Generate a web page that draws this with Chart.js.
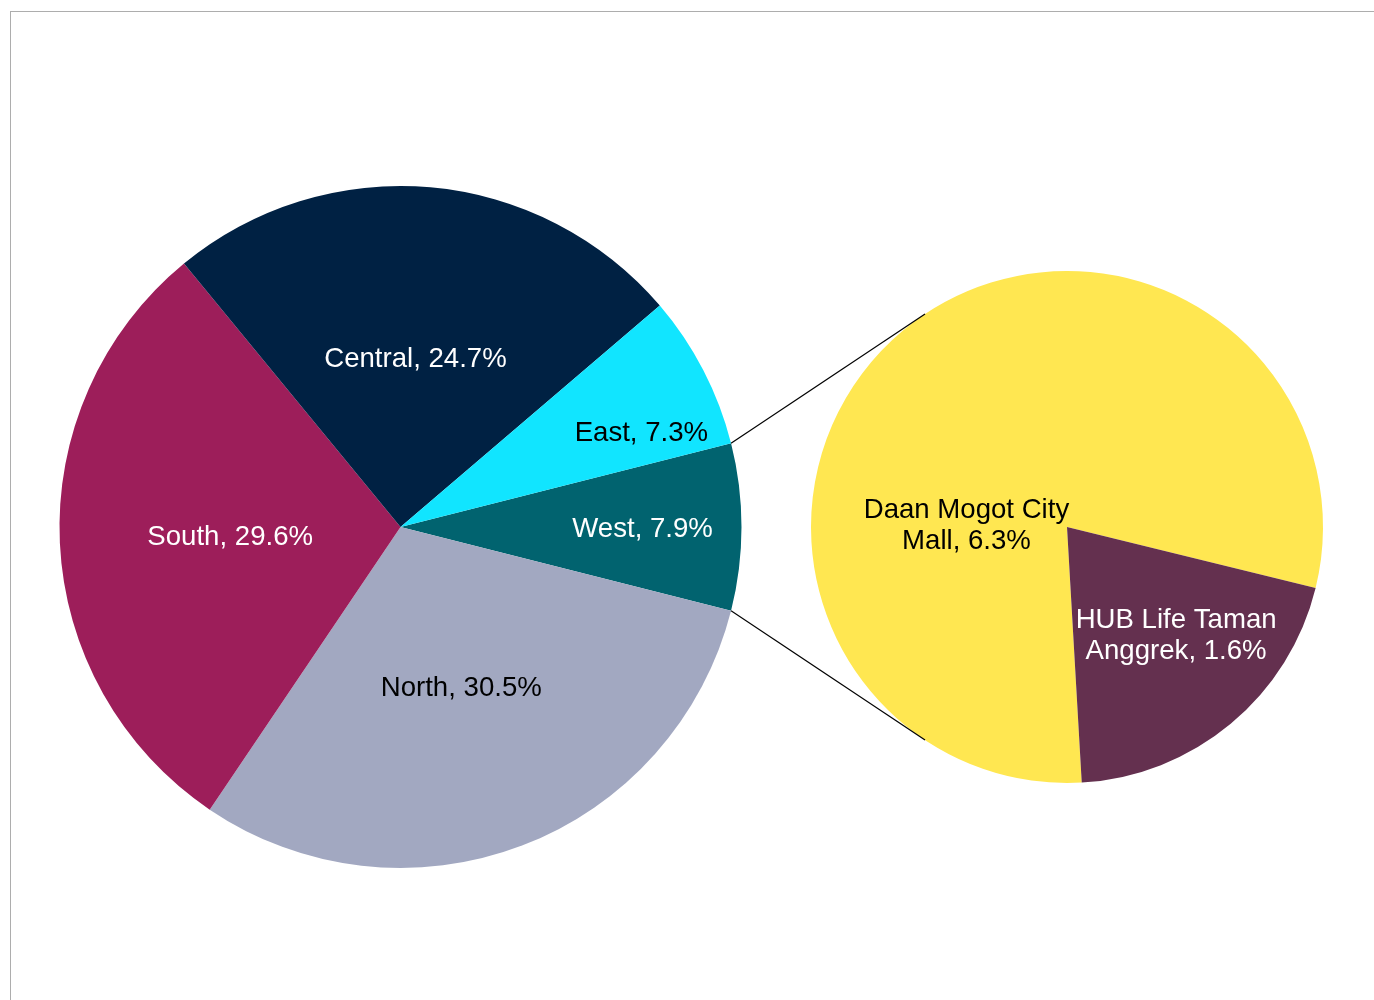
<!DOCTYPE html>
<html>
<head>
<meta charset="utf-8">
<title>Regions pie of pie</title>
<script src="https://cdn.jsdelivr.net/npm/chart.js@4.4.0/dist/chart.umd.min.js"></script>
<style>
    html, body { margin: 0; padding: 0; background: #fff; overflow: hidden; }
    #wrap { position: relative; width: 1374px; height: 1000px; }
    #frame { position: absolute; left: 10px; top: 11px; width: 1400px; height: 1000px; border: 1px solid #adadad; }
    canvas { position: absolute; left: 0; top: 0; }
</style>
</head>
<body>
<div id="wrap">
    <div id="frame"></div>
    <canvas id="mainPie" width="1374" height="1000"></canvas>
    <canvas id="subPie" width="1374" height="1000"></canvas>
</div>
<script>
// main pie, West is the slice that gets split out
var regionLabels = ['West', 'North', 'South', 'Central', 'East'];
var regionShares = [7.9, 30.5, 29.6, 24.7, 7.3];

// second pie, the breakdown of West
var mallLabels = ['Daan Mogot City Mall', 'HUB Life Taman Anggrek'];
var mallShares = [6.3, 1.6];

var regionColors = ['#01636F', '#A2A8C1', '#9D1E5A', '#002143', '#11E5FF'];
var regionTextColors = ['#ffffff', '#000000', '#ffffff', '#ffffff', '#000000'];
var mallColors = ['#FFE751', '#64304F'];
var mallTextColors = ['#000000', '#ffffff'];

// f = share of radius, da = nudge off the slice middle (deg)
var regionLabelPos = [{f: 0.71, da: 0}, {f: 0.50, da: 0}, {f: 0.50, da: 0}, {f: 0.50, da: 0}, {f: 0.76, da: 5.7}];
var mallLabelPos = [{f: 0.393, da: -48.2}, {f: 0.595, da: -6}];

var LABEL_FONT = '27.6px "Liberation Sans", Arial, sans-serif';
var LINE_HEIGHT = 31.5;
var TEXT_DROP = 2.5;

function wrapText(ctx, text, maxWidth) {
    var words = text.split(' ');
    var lines = [];
    var line = '';
    words.forEach(function (w) {
        var test = line ? line + ' ' + w : w;
        if (line && ctx.measureText(test).width > maxWidth) {
            lines.push(line);
            line = w;
        } else {
            line = test;
        }
    });
    lines.push(line);
    return lines;
}

function sliceLabels(textColors, positions) {
    return {
        id: 'sliceLabels',
        afterDatasetsDraw: function (chart) {
            var ctx = chart.ctx;
            var meta = chart.getDatasetMeta(0);
            var labels = chart.data.labels;
            var values = chart.data.datasets[0].data;
            ctx.save();
            ctx.font = LABEL_FONT;
            ctx.textAlign = 'center';
            ctx.textBaseline = 'middle';
            meta.data.forEach(function (arc, i) {
                var mid = (arc.startAngle + arc.endAngle) / 2 + positions[i].da * Math.PI / 180;
                var d = arc.outerRadius * positions[i].f;
                var cx = arc.x + Math.cos(mid) * d;
                var cy = arc.y + Math.sin(mid) * d + TEXT_DROP;
                var lines = wrapText(ctx, labels[i] + ', ' + values[i].toFixed(1) + '%', 220);
                ctx.fillStyle = textColors[i];
                lines.forEach(function (line, j) {
                    ctx.fillText(line, cx, cy + (j - (lines.length - 1) / 2) * LINE_HEIGHT);
                });
            });
            ctx.restore();
        }
    };
}

function pieOptions(rotation, padding) {
    return {
        responsive: false,
        animation: false,
        events: [],
        rotation: rotation,
        layout: {padding: padding},
        elements: {arc: {borderWidth: 0, offset: 0, hoverOffset: 0}},
        plugins: {legend: {display: false}, tooltip: {enabled: false}}
    };
}

var mainChart = new Chart(document.getElementById('mainPie').getContext('2d'), {
    type: 'pie',
    data: {
        labels: regionLabels,
        datasets: [{data: regionShares, backgroundColor: regionColors}]
    },
    // split slice centred on the right side
    options: pieOptions(90 - regionShares[0] * 3.6 / 2, {left: 59.5, top: 186, right: 632.5, bottom: 132}),
    plugins: [sliceLabels(regionTextColors, regionLabelPos)]
});

// lines from split slice edges, tangent to the second pie
var connectorPlugin = {
    id: 'connectors',
    afterDatasetsDraw: function (chart) {
        var split = mainChart.getDatasetMeta(0).data[0];
        var sub = chart.getDatasetMeta(0).data[0];
        var R = sub.outerRadius;
        var ctx = chart.ctx;
        ctx.save();
        ctx.strokeStyle = '#000';
        ctx.lineWidth = 1.2;
        [split.startAngle, split.endAngle].forEach(function (a, k) {
            var px = split.x + Math.cos(a) * split.outerRadius;
            var py = split.y + Math.sin(a) * split.outerRadius;
            var dx = px - sub.x, dy = py - sub.y;
            var dist = Math.sqrt(dx * dx + dy * dy);
            var base = Math.atan2(dy, dx);
            var off = Math.acos(R / dist);
            var t = k === 0 ? base + off : base - off;
            ctx.beginPath();
            ctx.moveTo(px, py);
            ctx.lineTo(sub.x + Math.cos(t) * R, sub.y + Math.sin(t) * R);
            ctx.stroke();
        });
        ctx.restore();
    }
};

var subChart = new Chart(document.getElementById('subPie').getContext('2d'), {
    type: 'pie',
    data: {
        labels: mallLabels,
        datasets: [{data: mallShares, backgroundColor: mallColors}]
    },
    options: pieOptions(176.7, {left: 811, top: 271, right: 51, bottom: 217}),
    plugins: [connectorPlugin, sliceLabels(mallTextColors, mallLabelPos)]
});
</script>
</body>
</html>
